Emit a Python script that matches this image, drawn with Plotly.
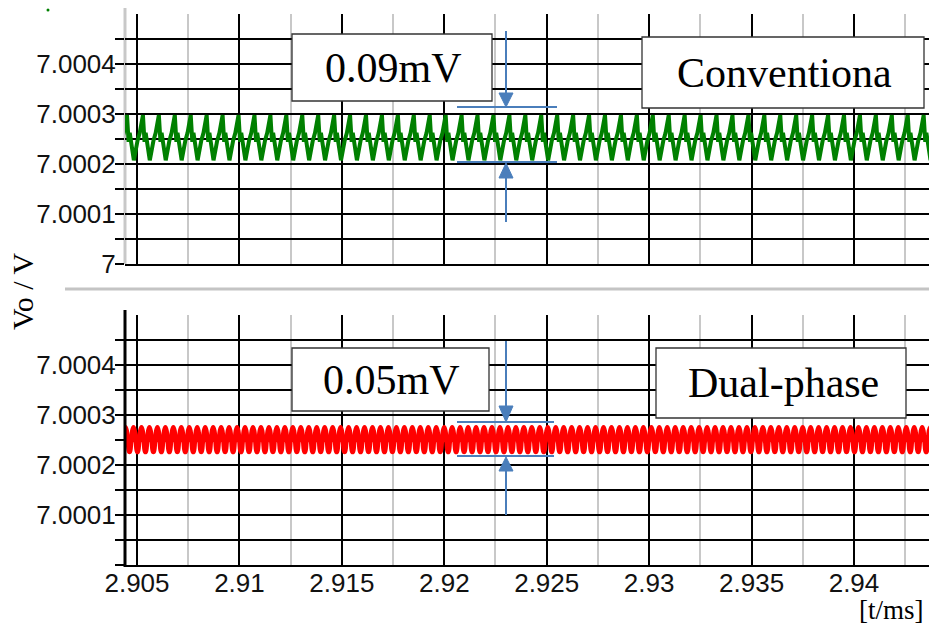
import plotly.graph_objects as go
from plotly.subplots import make_subplots

# ---- data ----
x_range = [2.904414, 2.943662]
x_tick_vals = [2.905, 2.91, 2.915, 2.92, 2.925, 2.93, 2.935, 2.94]
x_tick_text = ["2.905", "2.91", "2.915", "2.92", "2.925", "2.93", "2.935", "2.94"]
y_range = [7.0, 7.000499]
y_tick_vals_top = [7.0, 7.0001, 7.0002, 7.0003, 7.0004]
y_tick_text_top = ["7", "7.0001", "7.0002", "7.0003", "7.0004"]
y_tick_vals_bot = [7.0001, 7.0002, 7.0003, 7.0004]
y_tick_text_bot = ["7.0001", "7.0002", "7.0003", "7.0004"]

# Conventional ripple: one measured cycle (phase within period, voltage)
green_t0 = 2.904512          # time of first peak [ms]
green_period = 0.0007778     # ripple period [ms]
green_phase = [0.00, 0.10, 0.17, 0.24, 0.43, 0.66, 0.72, 0.80]
green_volt = [7.000297, 7.000244, 7.000262, 7.000250, 7.000207, 7.000246, 7.000258, 7.000262]
green_cycles = 53

# Dual-phase ripple: one measured cycle
red_t0 = 2.904440
red_period = 0.0003889
red_phase = [0.00, 0.15, 0.30, 0.45, 0.55, 0.70, 0.85]
red_volt = [7.000275, 7.000268, 7.000245, 7.000226, 7.000226, 7.000245, 7.000268]
red_cycles = 104

labels = ["0.09mV", "Conventiona", "0.05mV", "Dual-phase"]

# ---- build traces from the measured cycles ----
def tile(t0, period, phase, volt, n):
    xs, ys = [], []
    for k in range(-1, n):
        for p, v in zip(phase, volt):
            xs.append(t0 + (k + p) * period)
            ys.append(v)
    return xs, ys

gx, gy = tile(green_t0, green_period, green_phase, green_volt, green_cycles)
rx, ry = tile(red_t0, red_period, red_phase, red_volt, red_cycles)

W, H = 929, 627
L, R, T, B = 125, 0, 14, 62
PW, PH = W - L - R, H - T - B

def px(x):
    return (x - L) / PW

def py(y):
    return (H - B - y) / PH

fig = make_subplots(rows=2, cols=1, shared_xaxes=False, vertical_spacing=0)

fig.add_trace(go.Scatter(x=gx, y=gy, mode="lines", line=dict(color="#008000", width=4),
                         showlegend=False, hoverinfo="skip"), row=1, col=1)
fig.add_trace(go.Scatter(x=rx, y=ry, mode="lines", line=dict(color="#ff0000", width=4.5, shape="spline"),
                         showlegend=False, hoverinfo="skip"), row=2, col=1)

tick_font = dict(family="Liberation Sans, Arial, sans-serif", size=26, color="#111111")

xcommon = dict(range=x_range, tickvals=x_tick_vals, ticktext=x_tick_text,
               showgrid=True, gridcolor="black", gridwidth=2,
               minor=dict(tick0=2.9025, dtick=0.0025, showgrid=True, gridcolor="#c8c8c8", gridwidth=2),
               showline=True, linecolor="black", linewidth=2, zeroline=False,
               ticks="", tickfont=tick_font)
fig.update_xaxes(domain=[0, 1], **xcommon)
fig.update_xaxes(showticklabels=False, row=1, col=1)
fig.update_xaxes(showticklabels=True, ticklabelstandoff=-6, row=2, col=1)

ycommon = dict(range=y_range, showgrid=True, gridcolor="black", gridwidth=2,
               ticks="outside", ticklen=9, tickwidth=2, tickcolor="black",
               minor=dict(tick0=7.0, dtick=0.00005, ticks="outside", ticklen=9, tickwidth=2,
                          tickcolor="black", showgrid=True, gridcolor="black", gridwidth=2),
               showline=False, zeroline=False, tickfont=tick_font, ticklabelstandoff=-6)
fig.update_yaxes(**ycommon)
fig.update_yaxes(domain=[py(264), py(14)], tickvals=y_tick_vals_top, ticktext=y_tick_text_top, row=1, col=1)
fig.update_yaxes(domain=[py(565), py(315)], tickvals=y_tick_vals_bot, ticktext=y_tick_text_bot, row=2, col=1)

shapes = []
# left axis lines
shapes.append(dict(type="line", xref="paper", yref="paper", x0=0, x1=0, y0=py(8), y1=py(264),
                   line=dict(color="#c8c8c8", width=3), layer="below"))
shapes.append(dict(type="line", xref="paper", yref="paper", x0=0, x1=0, y0=py(310), y1=py(567),
                   line=dict(color="black", width=3)))
# separator
shapes.append(dict(type="line", xref="paper", yref="paper", x0=px(65), x1=1, y0=py(289), y1=py(289),
                   line=dict(color="#c4c4c4", width=3)))
# green dot
shapes.append(dict(type="circle", xref="paper", yref="paper", x0=px(46.5), x1=px(49.5), y0=py(8.5), y1=py(11.5),
                   fillcolor="#008000", line=dict(width=0)))

# label boxes
boxes = [(292, 34, 492, 101), (642, 37, 924, 108), (292, 348, 489, 411), (656, 348, 906, 418)]
for (x0, y0, x1, y1) in boxes:
    shapes.append(dict(type="rect", xref="paper", yref="paper", x0=px(x0), x1=px(x1), y0=py(y1), y1=py(y0),
                       fillcolor="white", line=dict(color="#333333", width=1.3)))

blue = "#4a7ebb"
def hline(x0, x1, y):
    shapes.append(dict(type="line", xref="paper", yref="paper", x0=px(x0), x1=px(x1), y0=py(y), y1=py(y),
                       line=dict(color=blue, width=2)))
def vline(x, y0, y1):
    shapes.append(dict(type="line", xref="paper", yref="paper", x0=px(x), x1=px(x), y0=py(y0), y1=py(y1),
                       line=dict(color=blue, width=2)))
def head(x, tip, base, half=7):
    path = "M {a},{b} L {c},{d} L {e},{f} Z".format(a=px(x), b=py(tip), c=px(x - half), d=py(base),
                                                    e=px(x + half), f=py(base))
    shapes.append(dict(type="path", xref="paper", yref="paper", path=path, fillcolor=blue,
                       line=dict(color=blue, width=1)))

# top arrows
hline(457, 557, 107); hline(457, 557, 162)
vline(506, 31, 95); head(506, 107, 93)
vline(506, 176, 222); head(506, 163, 178)
# bottom arrows
hline(457, 554, 422); hline(457, 554, 456)
vline(506, 341, 408); head(506, 422, 406)
vline(506, 468, 515); head(506, 457, 471)

annotations = []
serif = "Liberation Serif, Times New Roman, serif"
centers = [(393, 67.5), (784, 72.5), (391, 379.5), (783, 383)]
for text, (cx, cy) in zip(labels, centers):
    annotations.append(dict(text=text, xref="paper", yref="paper", x=px(cx), y=py(cy),
                            xanchor="center", yanchor="middle", showarrow=False,
                            font=dict(family=serif, size=42, color="black")))
annotations.append(dict(text="Vo / V", xref="paper", yref="paper", x=px(22), y=py(291), textangle=-90,
                        xanchor="center", yanchor="middle", showarrow=False,
                        font=dict(family=serif, size=30, color="black")))
annotations.append(dict(text="[t/ms]", xref="paper", yref="paper", x=px(891), y=py(610),
                        xanchor="center", yanchor="middle", showarrow=False,
                        font=dict(family=serif, size=27, color="black")))

fig.update_layout(width=W, height=H, margin=dict(l=L, r=R, t=T, b=B),
                  paper_bgcolor="white", plot_bgcolor="white",
                  shapes=shapes, annotations=annotations, showlegend=False)

fig.write_html("out.html")
